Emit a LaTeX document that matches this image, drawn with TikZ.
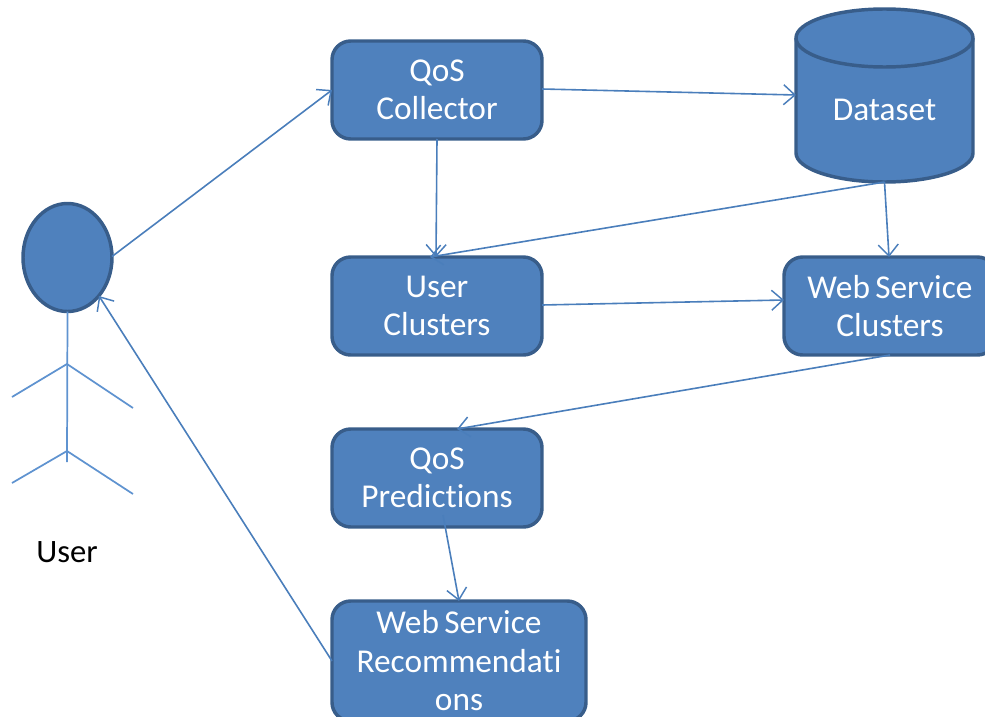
\documentclass[tikz,border=0pt]{standalone}
\usepackage{fontspec}
\setmainfont[Ligatures=NoCommon]{Carlito}
\usetikzlibrary{arrows.meta,calc,shapes.geometric}
\definecolor{fillblue}{HTML}{4F81BD}
\definecolor{edgeblue}{HTML}{385D8A}
\definecolor{linkblue}{HTML}{4A7EBB}
\definecolor{stickblue}{HTML}{5F93D0}
\newcommand{\boxfont}{\fontsize{25}{28.9}\selectfont\spaceskip=0.16em\relax}
\tikzset{
  box/.style={draw=edgeblue,fill=fillblue,line width=2.6pt,rounded corners=14pt,
    text=white,align=center,outer sep=0pt,inner sep=0pt,minimum height=73.5pt,
    font=\boxfont},
  link/.style={draw=linkblue,line width=1.2pt,-{Straight Barb[length=8.5pt,width=15pt,line width=1.1pt]}},
  stick/.style={draw=stickblue,line width=1.3pt},
}
\begin{document}
\begin{tikzpicture}[x=0.75pt,y=-0.75pt]
\useasboundingbox (0,0) rectangle (985,717);
\clip (0,0) rectangle (985,717);
% stick figure
\node[ellipse,draw=edgeblue,fill=fillblue,line width=2.6pt,minimum width=66.75pt,minimum height=81pt,inner sep=0pt,outer sep=0pt] (user) at (67.5,257.5) {};
\coordinate (shoulder) at (67,364);
\coordinate (hip) at (67,451);
\coordinate (foot) at (67,462);
\draw[stick] (user.south) -- (foot);
\draw[stick] (12,397) -- (shoulder) -- (133,408);
\draw[stick] (12,483) -- (hip) -- (133,494);
\node[font=\fontsize{24.5}{28}\selectfont] (userlabel) at (67,552) {User};
% boxes
\node[box,minimum width=157.5pt] (qc) at (437,90) {QoS\\Collector};
\node[box,minimum width=157.5pt] (uc) at (437,306) {User\\Clusters};
\node[box,minimum width=159pt] (wc) at (890,306) {Web Service\\Clusters};
\node[box,minimum width=157.5pt] (qp) at (437,478) {QoS\\Predictions};
\node[box,minimum width=190.5pt,minimum height=90pt] (wr) at (459,661) {Web Service\\Recommendati\\ons};
% cylinder
\node[outer sep=0pt,inner sep=0pt,minimum width=132.75pt,minimum height=129.75pt] (ds) at (884.5,95.5) {};
\draw[draw=edgeblue,fill=fillblue,line width=2.6pt]
  (796,38) arc[start angle=180,end angle=0,x radius=88.5,y radius=-29] -- (973,153)
  arc[start angle=0,end angle=-180,x radius=88.5,y radius=-29] -- cycle;
\draw[draw=edgeblue,line width=2.6pt] (796,38) arc[start angle=180,end angle=360,x radius=88.5,y radius=-29];
\node[text=white,font=\boxfont] (dslabel) at (884.5,110) {Dataset};
% connectors
\draw[link] ($(user.east)+(0,-1)$) -- (qc.west);
\draw[link] ($(qc.east)+(0,-1)$) -- ($(ds.west)+(0,-0.5)$);
\draw[link] (qc.south) -- ($(uc.north)+(-1,0)$);
\draw[link] (ds.south) -- ($(uc.north)+(-7,0)$);
\draw[link] (ds.south) -- ($(wc.north)+(-1,0)$);
\draw[link] ($(uc.east)+(0,-1)$) -- ($(wc.west)+(0,-6)$);
\draw[link] (wc.south) -- ($(qp.north)+(20,0)$);
\draw[link] ($(qp.south)+(6,-12)$) -- (wr.north);
\draw[link] (wr.west) -- ($(user.center)+(31.5,38.5)$);
\end{tikzpicture}
\end{document}
